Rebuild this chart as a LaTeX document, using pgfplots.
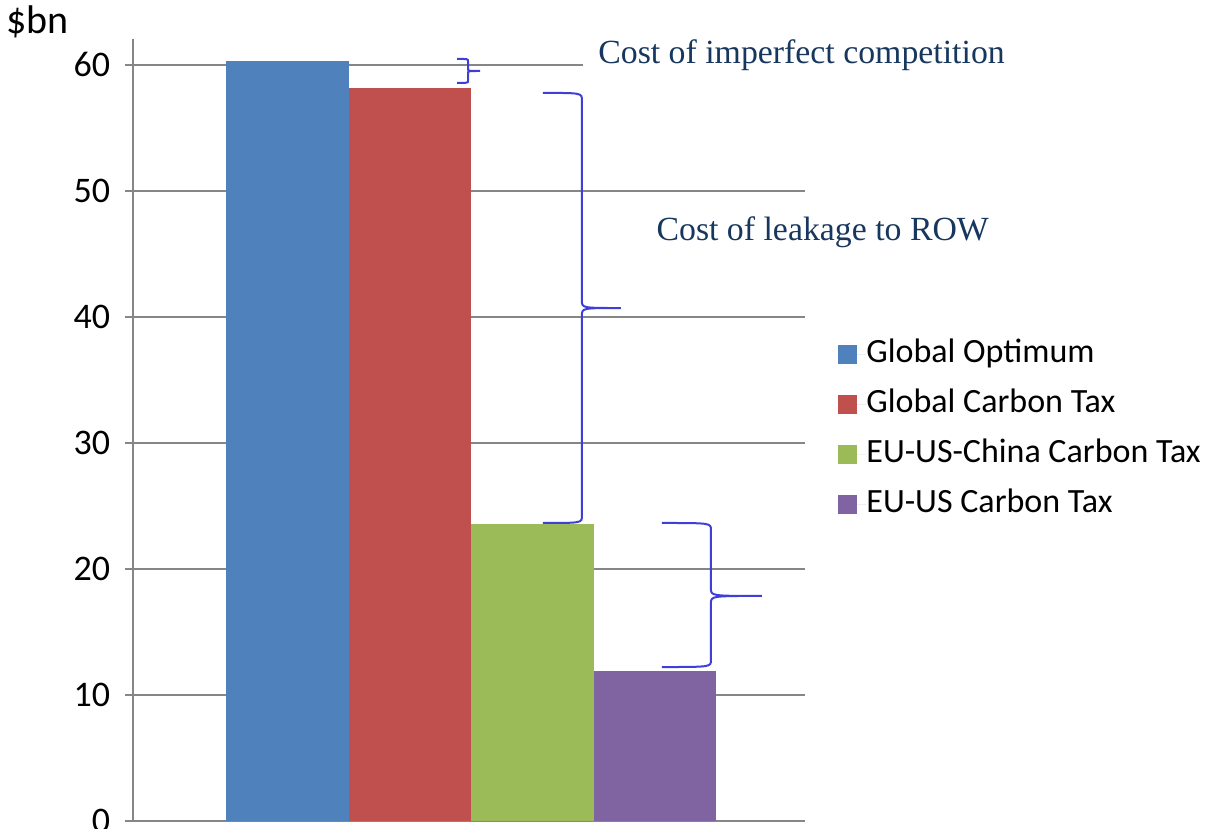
\documentclass[border=0pt]{standalone}
\usepackage{fontspec}
\setmainfont{Carlito}
\newfontfamily\tnr{Liberation Serif}
\usepackage{pgfplots}
\pgfplotsset{compat=1.18}
\definecolor{c-opt}{HTML}{4F81BD}
\definecolor{c-glob}{HTML}{C0504D}
\definecolor{c-euusch}{HTML}{9BBB59}
\definecolor{c-euus}{HTML}{8064A2}
\definecolor{axgray}{HTML}{868686}
\definecolor{bracecol}{HTML}{3F3FD8}
\definecolor{notecol}{HTML}{17375E}

\begin{document}
\begin{tikzpicture}
\begin{axis}[
	at={(0,0)}, anchor=south west,
	scale only axis,
	width=336pt, height=391pt,
	xmin=-1.006, xmax=0.994,
	ymin=0, ymax=62.06,
	ybar=0pt, bar width=0.3646,
	axis lines=left,
	axis line style={-, draw=axgray, line width=0.9pt},
	xtick=\empty,
	ytick={0,10,...,60},
	ymajorgrids,
	grid style={axgray, line width=0.9pt},
	tick align=outside,
	major tick length=4pt,
	tick style={axgray, line width=0.9pt},
	/pgf/number format/assume math mode=true,
	yticklabel style={font=\fontsize{18}{22}\selectfont, inner sep=0pt, xshift=-7.3pt},
	clip=false,
	legend style={
		draw=none, fill=none,
		at={(1.0402,0.5)}, anchor=west,
		font=\fontsize{17}{20}\selectfont,
		row sep=9pt,
		nodes={inner sep=0pt, text height=12pt, text depth=4pt},
	},
	legend cell align=left,
	legend image code/.code={%
		\path (0pt,0pt) -- (14pt,0pt);
		\fill[#1] (0pt,-4.75pt) rectangle (9.5pt,4.75pt);},
]
	\addplot [fill=c-opt, draw=none] coordinates {(0,60.3)};
	\addplot [fill=c-glob, draw=none] coordinates {(0,58.2)};
	\addplot [fill=c-euusch, draw=none] coordinates {(0,23.6)};
	\addplot [fill=c-euus, draw=none] coordinates {(0,11.9)};
	\legend{Global Optimum, Global Carbon Tax, EU-US-China Carbon Tax, EU-US Carbon Tax}

	% braces (x0 = arm ends, x1 = spine, x2 = tip)
	\draw[bracecol, line width=1pt]
		(axis cs:-0.0417,60.48) .. controls (axis cs:-0.0089,60.48) .. (axis cs:-0.0089,60.28)
		-- (axis cs:-0.0089,59.72) .. controls (axis cs:-0.0089,59.52) .. (axis cs:0.0268,59.52)
		.. controls (axis cs:-0.0089,59.52) .. (axis cs:-0.0089,59.32)
		-- (axis cs:-0.0089,58.77) .. controls (axis cs:-0.0089,58.57) .. (axis cs:-0.0417,58.57);
	\draw[bracecol, line width=1pt]
		(axis cs:0.214,57.78) .. controls (axis cs:0.330,57.78) .. (axis cs:0.330,57.2)
		-- (axis cs:0.330,41.3) .. controls (axis cs:0.330,40.71) .. (axis cs:0.446,40.71)
		.. controls (axis cs:0.330,40.71) .. (axis cs:0.330,40.1)
		-- (axis cs:0.330,24.2) .. controls (axis cs:0.330,23.65) .. (axis cs:0.214,23.65);
	\draw[bracecol, line width=1pt]
		(axis cs:0.568,23.65) .. controls (axis cs:0.714,23.65) .. (axis cs:0.714,23.1)
		-- (axis cs:0.714,18.46) .. controls (axis cs:0.714,17.86) .. (axis cs:0.866,17.86)
		.. controls (axis cs:0.714,17.86) .. (axis cs:0.714,17.26)
		-- (axis cs:0.714,12.77) .. controls (axis cs:0.714,12.22) .. (axis cs:0.568,12.22);

	\node[anchor=west, fill=white, inner xsep=7.5pt, inner ysep=4pt, text=notecol,
		font=\tnr\fontsize{16.9}{20}\selectfont]
		at (axis cs:0.333,60.75) {Cost of imperfect competition};
	\node[anchor=west, inner sep=0pt, text=notecol, font=\tnr\fontsize{16.9}{20}\selectfont]
		at (axis cs:0.551,46.75) {Cost of leakage to ROW};
	\node[anchor=west, inner sep=0pt, font=\fontsize{20}{24}\selectfont]
		at (axis cs:-1.385,63.4) {\$bn};
\end{axis}
\pgfresetboundingbox
\useasboundingbox (-66.5pt,-4pt) rectangle (541pt,410.5pt);
\end{tikzpicture}
\end{document}
